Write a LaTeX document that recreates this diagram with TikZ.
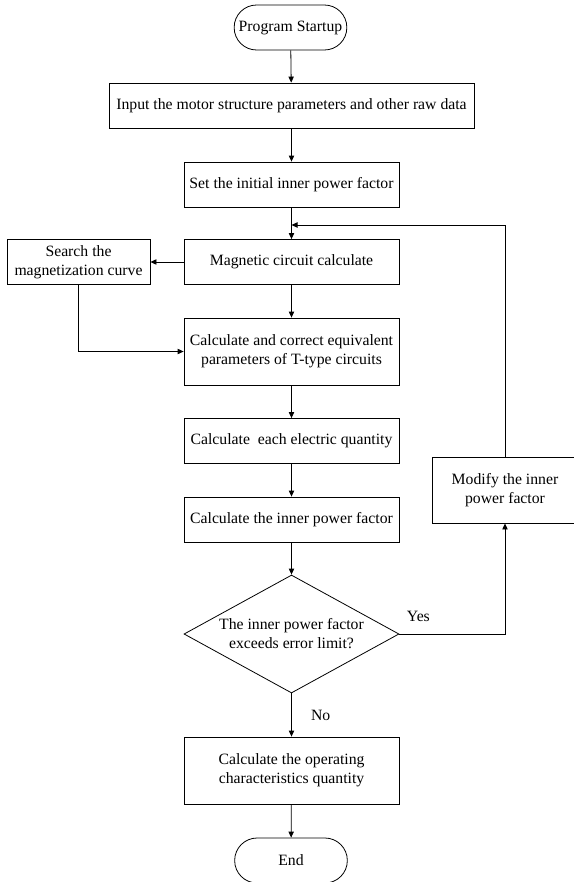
\documentclass[tikz,border=0pt]{standalone}
\usepackage{fontspec}
\setmainfont{Liberation Serif}
\usetikzlibrary{shapes,arrows.meta,positioning}

\begin{document}
\begin{tikzpicture}[x=0.75pt,y=-0.75pt,>={Triangle[length=4.5pt,width=4pt]},
        line width=0.6pt,
        font=\fontsize{11.8}{14.3}\selectfont,
        box/.style={draw, rectangle, align=center, minimum width=161.25pt, minimum height=33.75pt, inner sep=2pt},
        term/.style={draw, rectangle, rounded corners=16.8pt, minimum width=84.5pt, minimum height=33.75pt}]
        \useasboundingbox (0,0) rectangle (574,882);
        \node[term] (A) at (290.5,27.5) {Program Startup};
        \node[box, minimum width=273.75pt] (B) at (291.5,105.5) {Input the motor structure parameters and other raw data};
        \node[box] (C) at (291.5,184.5) {Set the initial inner power factor};
        \coordinate (M) at (291.5,225);
        \node[box] (D) at (291.5,262) {Magnetic circuit calculate};
        \node[box, minimum width=107.25pt] (E) at (78.5,262) {Search the\\magnetization curve};
        \node[box, minimum height=50.25pt] (F) at (291.5,351.5) {Calculate and correct equivalent\\parameters of T-type circuits};
        \node[box] (G) at (291.5,441) {Calculate\ \ each electric quantity};
        \node[box] (H) at (291.5,519.5) {Calculate the inner power factor};
        \node[draw, diamond, aspect=1.8, minimum width=161.25pt, minimum height=88.5pt, inner sep=0pt, align=center] (I) at (291.5,634) {The inner power factor\\exceeds error limit?};
        \node[box, minimum width=109.5pt, minimum height=49.5pt] (J) at (505,490) {Modify the inner\\power factor};
        \node[box, minimum height=50.25pt] (K) at (291.5,770.5) {Calculate the operating\\characteristics quantity};
        \node[term] (L) at (291,860.5) {End};
        \draw[->] (A) -- (B);
        \draw[->] (B) -- (C);
        \draw[->] (C) -- (D);
        \draw[->] (D) -- (E);
        \draw[->] (E.south) |- (F.west);
        \draw[->] (D) -- (F);
        \draw[->] (F) -- (G);
        \draw[->] (G) -- (H);
        \draw[->] (H) -- (I);
        \draw[->] (I.east) -| node[pos=0.09, above=6pt] {Yes} (J.south);
        \draw[->] (J.north) |- (M);
        \draw[->] (I) -- node[right=11pt] {No} (K);
        \draw[->] (K) -- (L);
    \end{tikzpicture}
\end{document}
